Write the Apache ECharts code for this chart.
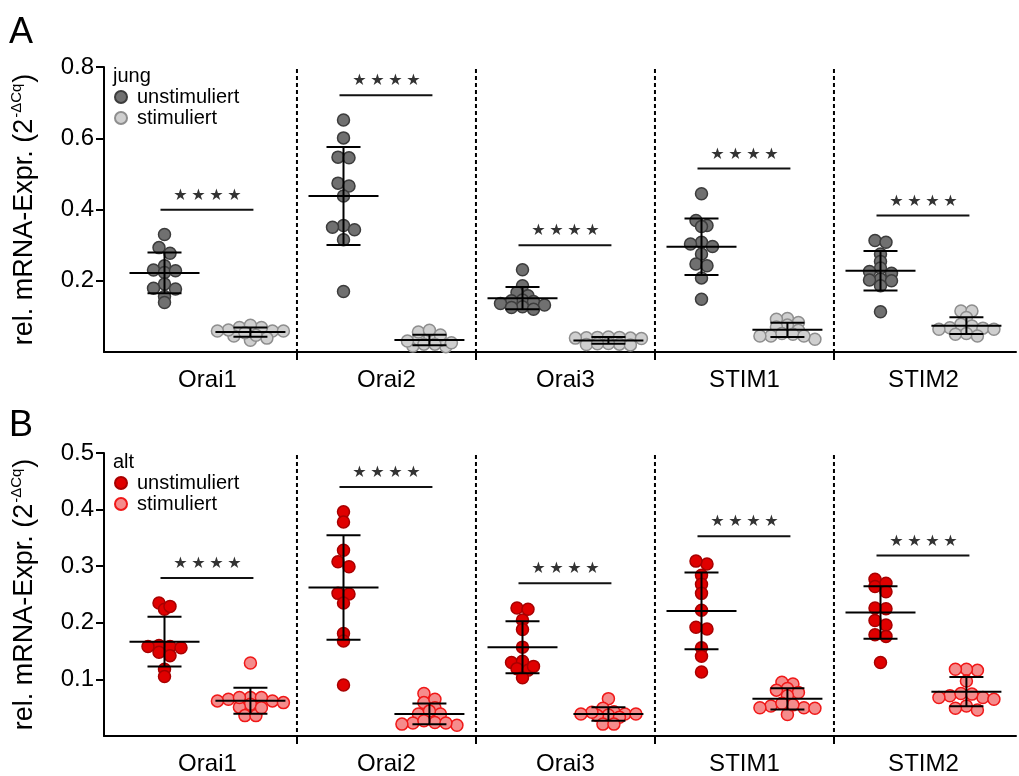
<!DOCTYPE html>
<html><head><meta charset="utf-8">
<script src="https://cdn.jsdelivr.net/npm/echarts@6/dist/echarts.min.js"></script>
<style>html,body{margin:0;padding:0;background:#fff}#main{width:1019px;height:776px}</style>
</head><body><div id="main"></div>
<script>
const categories = ['Orai1', 'Orai2', 'Orai3', 'STIM1', 'STIM2'];
const legendTitles = ['jung', 'alt'];
const conditionNames = ['unstimuliert', 'stimuliert'];
const yTicksA = [0.2, 0.4, 0.6, 0.8];
const yTicksB = [0.1, 0.2, 0.3, 0.4, 0.5];

const jungUnstim = [
  [0.330,0.293,0.277,0.242,0.230,0.223,0.228,0.191,0.177,0.179,0.156,0.139],
  [0.651,0.601,0.547,0.545,0.474,0.466,0.438,0.355,0.350,0.343,0.315,0.170],
  [0.231,0.186,0.167,0.158,0.146,0.144,0.142,0.136,0.132,0.127,0.125,0.120],
  [0.444,0.369,0.355,0.352,0.308,0.303,0.296,0.275,0.247,0.242,0.208,0.148],
  [0.313,0.308,0.275,0.254,0.236,0.226,0.221,0.205,0.202,0.200,0.186,0.113]
];
const jungStim = [
  [0.059,0.069,0.045,0.062,0.033,0.069,0.075,0.039,0.054,0.047,0.059,0.059],
  [0.039,0.017,0.036,0.022,0.056,0.015,0.061,0.031,0.033,0.048,0.022,0.026],
  [0.041,0.039,0.042,0.040,0.038,0.041,0.039,0.022,0.020,0.024,0.021,0.023],
  [0.094,0.083,0.092,0.076,0.061,0.070,0.050,0.045,0.036,0.052,0.045,0.045],
  [0.115,0.115,0.097,0.078,0.073,0.068,0.067,0.064,0.064,0.052,0.050,0.045]
];
const altUnstim = [
  [0.235,0.224,0.229,0.158,0.160,0.148,0.142,0.156,0.158,0.118,0.105],
  [0.396,0.378,0.328,0.308,0.299,0.252,0.251,0.235,0.181,0.168,0.090],
  [0.226,0.224,0.205,0.188,0.157,0.130,0.132,0.119,0.116,0.123,0.103],
  [0.304,0.309,0.284,0.268,0.252,0.222,0.189,0.192,0.156,0.141,0.113],
  [0.277,0.264,0.270,0.255,0.225,0.226,0.204,0.196,0.179,0.176,0.130]
];
const altStim = [
  [0.129,0.068,0.056,0.051,0.062,0.065,0.068,0.059,0.068,0.062,0.036,0.036,0.050],
  [0.075,0.059,0.065,0.050,0.039,0.039,0.044,0.019,0.023,0.024,0.027,0.023,0.021],
  [0.066,0.049,0.043,0.039,0.037,0.033,0.036,0.042,0.039,0.039,0.021,0.021],
  [0.092,0.095,0.084,0.081,0.077,0.071,0.050,0.038,0.053,0.050,0.055,0.049,0.058],
  [0.116,0.118,0.118,0.097,0.068,0.071,0.075,0.065,0.074,0.068,0.053,0.046,0.049]
];
const sigA = [0.399, 0.721, 0.300, 0.515, 0.383];
const sigB = [0.279, 0.440, 0.270, 0.353, 0.319];

const FONT = '"Liberation Sans", Arial, sans-serif';
const POS = [0.26, 0.74];
const XMIN = -0.078, XMAX = 5.017;

const panels = [
  { letter: 'A', title: legendTitles[0], groups: [jungUnstim, jungStim], sig: sigA, max: 0.8, ticks: yTicksA,
    fills: ['#707070', '#cfcfcf'], borders: ['#3c3c3c', '#8e8e8e'], top: 67, height: 285, letterTop: 15 },
  { letter: 'B', title: legendTitles[1], groups: [altUnstim, altStim], sig: sigB, max: 0.5, ticks: yTicksB,
    fills: ['#e00000', '#f58c8c'], borders: ['#a80000', '#f01818'], top: 453, height: 284, letterTop: 408 }
];

function meanOf(a) { return a.reduce((s, v) => s + v, 0) / a.length; }
function sdOf(a) { const m = meanOf(a); return Math.sqrt(a.reduce((s, v) => s + (v - m) * (v - m), 0) / (a.length - 1)); }

// Prism-like row layout: values close in pixel height share a row and spread symmetrically
function rowLayout(values, ppy, rowH, S) {
  const idx = values.map((v, i) => i).sort((a, b) => values[b] - values[a]);
  const out = new Array(values.length);
  let k = 0;
  while (k < idx.length) {
    const start = values[idx[k]];
    const row = [];
    while (k < idx.length && (start - values[idx[k]]) * ppy < rowH) { row.push(idx[k]); k++; }
    const n = row.length;
    const offs = row.map((_, j) => (j - (n - 1) / 2) * S).sort((a, b) => (Math.abs(a) - Math.abs(b)) || (a - b));
    row.forEach((id, j) => { out[id] = offs[j]; });
  }
  return out;
}

const chart = echarts.init(document.getElementById('main'), null, { renderer: 'canvas' });

function buildOption(scale) {
  const grids = [], xAxes = [], yAxes = [], legends = [], series = [], graphics = [];
  panels.forEach((P, g) => {
    grids.push({ left: 104, right: 3, top: P.top, height: P.height, containLabel: false });
    xAxes.push({
      type: 'value', gridIndex: g, min: XMIN, max: XMAX,
      axisLine: { show: true, onZero: false, lineStyle: { color: '#000', width: 2 } },
      axisTick: { show: true, customValues: [1, 2, 3, 4], length: 8, lineStyle: { color: '#000', width: 2 } },
      axisLabel: { customValues: [0.5, 1.5, 2.5, 3.5, 4.5], formatter: v => categories[Math.floor(v)],
        fontSize: 24, color: '#000', fontFamily: FONT, margin: 16 },
      splitLine: { show: false }
    });
    yAxes.push({
      type: 'value', gridIndex: g, min: 0, max: P.max,
      axisLine: { show: true, onZero: false, lineStyle: { color: '#000', width: 2 } },
      axisTick: { show: true, customValues: P.ticks, length: 8, lineStyle: { color: '#000', width: 2 } },
      axisLabel: { customValues: P.ticks, formatter: v => v.toFixed(1), fontSize: 24, color: '#000', fontFamily: FONT, margin: 10 },
      splitLine: { show: false },
      name: '{a|rel. mRNA-Expr. (2}{s|-ΔCq}{a|)}',
      nameLocation: 'middle', nameRotate: 90, nameGap: 64,
      nameTextStyle: { color: '#000', fontFamily: FONT, fontSize: 27,
        rich: { a: { fontSize: 27, fontFamily: FONT, color: '#000' },
                s: { fontSize: 15, fontFamily: FONT, color: '#000', padding: [0, 1, 16, 1] } } }
    });
    const nameMap = {};
    const legendData = [];
    series.push({
      type: 'custom', xAxisIndex: g, yAxisIndex: g, z: 1, silent: true,
      data: [1, 2, 3, 4].map(v => [v, P.max]),
      renderItem: (params, api) => {
        const t = api.coord([api.value(0), api.value(1)]);
        const b = api.coord([api.value(0), 0]);
        return { type: 'line', shape: { x1: t[0], y1: t[1] + 2, x2: b[0], y2: b[1] },
          style: { stroke: '#000', lineWidth: 2, lineDash: [4, 3] } };
      }
    });
    P.groups.forEach((grp, c) => {
      const sname = P.letter + '_' + c;
      nameMap[sname] = conditionNames[c];
      legendData.push(sname);
      const data = [];
      grp.forEach((vals, i) => {
        const off = scale ? rowLayout(vals, scale[g].ppy, 6, 11) : vals.map(() => 0);
        vals.forEach((v, k) => data.push([i + POS[c] + (scale ? off[k] / scale[g].ppx : 0), v]));
      });
      series.push({
        type: 'scatter', name: sname, xAxisIndex: g, yAxisIndex: g, z: 2,
        symbol: 'circle', symbolSize: 12, data,
        itemStyle: { color: P.fills[c], borderColor: P.borders[c], borderWidth: 1.5, opacity: 1 },
        emphasis: { disabled: true }
      });
      series.push({
        type: 'custom', xAxisIndex: g, yAxisIndex: g, z: 3, silent: true,
        data: grp.map((vals, i) => [i + POS[c], meanOf(vals), sdOf(vals)]),
        renderItem: (params, api) => {
          const x = api.value(0), m = api.value(1), s = api.value(2);
          const pm = api.coord([x, m]), pt = api.coord([x, m + s]), pb = api.coord([x, m - s]);
          const st = { stroke: '#000', lineWidth: 2 };
          return { type: 'group', children: [
            { type: 'line', shape: { x1: pm[0] - 35, y1: pm[1], x2: pm[0] + 35, y2: pm[1] }, style: st },
            { type: 'line', shape: { x1: pt[0], y1: pt[1], x2: pb[0], y2: pb[1] }, style: st },
            { type: 'line', shape: { x1: pt[0] - 17, y1: pt[1], x2: pt[0] + 17, y2: pt[1] }, style: st },
            { type: 'line', shape: { x1: pb[0] - 17, y1: pb[1], x2: pb[0] + 17, y2: pb[1] }, style: st }
          ] };
        }
      });
    });
    series.push({
      type: 'custom', xAxisIndex: g, yAxisIndex: g, z: 3, silent: true,
      data: P.sig.map((v, i) => [i, v]),
      renderItem: (params, api) => {
        const i = api.value(0), v = api.value(1);
        const a = api.coord([i + POS[0], v]), b = api.coord([i + POS[1], v]);
        const cx = (a[0] + b[0]) / 2;
        const kids = [{ type: 'line', shape: { x1: a[0] - 4, y1: a[1], x2: b[0] + 3, y2: b[1] },
          style: { stroke: '#111', lineWidth: 2 } }];
        [-27, -9, 9, 27].forEach(dx => kids.push({ type: 'text', x: cx + dx, y: a[1] - 14,
          style: { text: '★', fontSize: 16, fontFamily: 'DejaVu Sans', fill: '#333', align: 'center', verticalAlign: 'middle' } }));
        return { type: 'group', children: kids };
      }
    });
    legends.push({
      data: legendData, orient: 'vertical', left: 114, top: P.top + 20, itemGap: 1,
      itemWidth: 12, itemHeight: 12, icon: 'circle', selectedMode: false, padding: 0,
      formatter: n => nameMap[n],
      textStyle: { fontSize: 20, fontFamily: FONT, color: '#000', lineHeight: 20, padding: [0, 0, 0, 5] }
    });
    graphics.push({ type: 'text', left: 113, top: P.top - 1,
      style: { text: P.title, fontSize: 20, fontFamily: FONT, fill: '#000' } });
    graphics.push({ type: 'text', left: 9, top: P.letterTop,
      style: { text: P.letter, fontSize: 36, fontFamily: FONT, fill: '#000' } });
  });
  return { backgroundColor: '#fff', animation: false, grid: grids, xAxis: xAxes, yAxis: yAxes,
    legend: legends, series, graphic: graphics };
}

chart.setOption(buildOption(null));
const scale = panels.map((P, g) => {
  const p0 = chart.convertToPixel({ gridIndex: g }, [0, 0]);
  const p1 = chart.convertToPixel({ gridIndex: g }, [1, 0.1]);
  return { ppx: p1[0] - p0[0], ppy: (p0[1] - p1[1]) / 0.1 };
});
chart.setOption(buildOption(scale), true);
</script></body></html>
